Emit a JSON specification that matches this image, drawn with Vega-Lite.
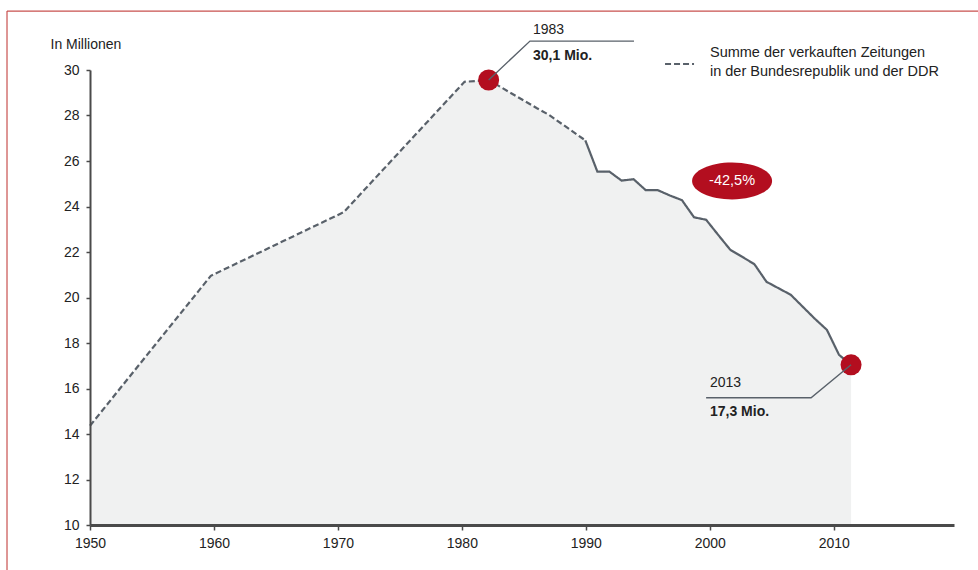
{
  "$schema": "https://vega.github.io/schema/vega-lite/v6.json",
  "width": 864,
  "height": 455,
  "autosize": {"type": "none"},
  "padding": {"left": 90, "top": 70, "right": 24, "bottom": 45},
  "background": "white",
  "config": {
    "view": {"stroke": null},
    "font": "Liberation Sans, Arial, sans-serif",
    "text": {"font": "Liberation Sans, Arial, sans-serif", "fontSize": 14, "color": "#222222"}
  },
  "datasets": {
    "achse": [
      {"jahr": 1950, "mio": 10},
      {"jahr": 2019.7, "mio": 30}
    ],
    "verkauf": [
      {"jahr": 1950, "mio": 14.56, "reihe": "Bundesrepublik und DDR"},
      {"jahr": 1960, "mio": 21.3, "reihe": "Bundesrepublik und DDR"},
      {"jahr": 1971, "mio": 24.16, "reihe": "Bundesrepublik und DDR"},
      {"jahr": 1981, "mio": 30.02, "reihe": "Bundesrepublik und DDR"},
      {"jahr": 1983, "mio": 30.1, "reihe": "Bundesrepublik und DDR"},
      {"jahr": 1987, "mio": 28.83, "reihe": "Bundesrepublik und DDR"},
      {"jahr": 1988, "mio": 28.53, "reihe": "Bundesrepublik und DDR"},
      {"jahr": 1991, "mio": 27.39, "reihe": "Bundesrepublik und DDR"},
      {"jahr": 1991, "mio": 27.39, "reihe": "Deutschland"},
      {"jahr": 1992, "mio": 25.98, "reihe": "Deutschland"},
      {"jahr": 1993, "mio": 25.98, "reihe": "Deutschland"},
      {"jahr": 1994, "mio": 25.58, "reihe": "Deutschland"},
      {"jahr": 1995, "mio": 25.64, "reihe": "Deutschland"},
      {"jahr": 1996, "mio": 25.15, "reihe": "Deutschland"},
      {"jahr": 1997, "mio": 25.15, "reihe": "Deutschland"},
      {"jahr": 1998, "mio": 24.91, "reihe": "Deutschland"},
      {"jahr": 1999, "mio": 24.7, "reihe": "Deutschland"},
      {"jahr": 2000, "mio": 23.93, "reihe": "Deutschland"},
      {"jahr": 2001, "mio": 23.82, "reihe": "Deutschland"},
      {"jahr": 2002, "mio": 23.14, "reihe": "Deutschland"},
      {"jahr": 2003, "mio": 22.47, "reihe": "Deutschland"},
      {"jahr": 2004, "mio": 22.15, "reihe": "Deutschland"},
      {"jahr": 2005, "mio": 21.82, "reihe": "Deutschland"},
      {"jahr": 2006, "mio": 21.03, "reihe": "Deutschland"},
      {"jahr": 2007, "mio": 20.74, "reihe": "Deutschland"},
      {"jahr": 2008, "mio": 20.45, "reihe": "Deutschland"},
      {"jahr": 2009, "mio": 19.91, "reihe": "Deutschland"},
      {"jahr": 2010, "mio": 19.37, "reihe": "Deutschland"},
      {"jahr": 2011, "mio": 18.87, "reihe": "Deutschland"},
      {"jahr": 2012, "mio": 17.75, "reihe": "Deutschland"},
      {"jahr": 2013, "mio": 17.3, "reihe": "Deutschland"}
    ],
    "eckwerte": [
      {"jahr": 1983, "mio": 30.1},
      {"jahr": 2013, "mio": 17.3}
    ],
    "hinweislinien": [
      {"marke": "1983", "jahr": 1983, "mio": 30.1},
      {"marke": "1983", "jahr": 1986.42, "mio": 31.85},
      {"marke": "1983", "jahr": 1995.03, "mio": 31.85},
      {"marke": "2013", "jahr": 2001.0, "mio": 15.82},
      {"marke": "2013", "jahr": 2009.69, "mio": 15.82},
      {"marke": "2013", "jahr": 2013, "mio": 17.3}
    ],
    "jahresnotizen": [
      {"jahr": 1986.67, "mio": 32.35, "text": "1983"},
      {"jahr": 2001.32, "mio": 16.47, "text": "2013"}
    ],
    "wertnotizen": [
      {"jahr": 1986.67, "mio": 31.2, "text": "30,1 Mio."},
      {"jahr": 2001.32, "mio": 15.19, "text": "17,3 Mio."}
    ],
    "veraenderung": [
      {"jahr": 2003.15, "mio": 25.56, "text": "-42,5%"}
    ],
    "legende_linie": [
      {"jahr": 1997.6, "jahr_ende": 2000.0, "mio": 30.82}
    ],
    "legende_text": [
      {"jahr": 2001.32, "mio": 31.31, "text": "Summe der verkauften Zeitungen"},
      {"jahr": 2001.32, "mio": 30.46, "text": "in der Bundesrepublik und der DDR"}
    ],
    "rahmen_oben": [
      {"jahr": 1943.13, "jahr_ende": 2023.51, "mio": 33.2}
    ],
    "rahmen_links": [
      {"jahr": 1943.13, "mio": 8.08, "mio_ende": 33.2}
    ]
  },
  "layer": [
    {
      "data": {"name": "achse"},
      "mark": {"type": "point", "opacity": 0},
      "encoding": {
        "x": {
          "field": "jahr",
          "type": "quantitative",
          "scale": {"domain": [1950, 2019.7], "nice": false, "zero": false},
          "axis": {
            "title": null,
            "zindex": 1,
            "values": [1950, 1960, 1970, 1980, 1990, 2000, 2010],
            "format": "d",
            "grid": false,
            "labelFlush": false,
            "domainColor": "#4a4a4a",
            "domainWidth": 3,
            "tickColor": "#4a4a4a",
            "tickWidth": 1.5,
            "tickSize": 5,
            "labelFont": "Liberation Sans, Arial, sans-serif",
            "labelFontSize": 14,
            "labelColor": "#222222",
            "labelPadding": 6
          }
        },
        "y": {
          "field": "mio",
          "type": "quantitative",
          "scale": {"domain": [10, 30], "nice": false, "zero": false},
          "axis": {
            "title": "In Millionen",
            "zindex": 1,
            "titleAngle": 0,
            "titleAlign": "left",
            "titleBaseline": "middle",
            "titleX": -40,
            "titleY": -26,
            "titleFont": "Liberation Sans, Arial, sans-serif",
            "titleFontSize": 14,
            "titleFontWeight": "normal",
            "titleColor": "#222222",
            "values": [10, 12, 14, 16, 18, 20, 22, 24, 26, 28, 30],
            "grid": false,
            "labelFlush": false,
            "domainColor": "#4a4a4a",
            "domainWidth": 2,
            "tickColor": "#4a4a4a",
            "tickWidth": 1.5,
            "tickSize": 4,
            "labelFont": "Liberation Sans, Arial, sans-serif",
            "labelFontSize": 14,
            "labelColor": "#222222",
            "labelPadding": 7
          }
        }
      }
    },
    {
      "encoding": {
        "x": {
          "field": "jahr",
          "type": "quantitative",
          "scale": {"domain": [1950, 2021.52], "nice": false, "zero": false},
          "axis": null
        },
        "y": {
          "field": "mio",
          "type": "quantitative",
          "scale": {"domain": [10.1, 30.55], "nice": false, "zero": false},
          "axis": null
        }
      },
      "layer": [
        {
          "data": {"name": "rahmen_oben"},
          "mark": {"type": "rule", "color": "#c8504e", "strokeWidth": 1.2},
          "encoding": {"x2": {"field": "jahr_ende"}}
        },
        {
          "data": {"name": "rahmen_links"},
          "mark": {"type": "rule", "color": "#c8504e", "strokeWidth": 1.2},
          "encoding": {"y2": {"field": "mio_ende"}}
        },
        {
          "data": {"name": "verkauf"},
          "mark": {"type": "area", "color": "#f0f1f1", "opacity": 1},
          "encoding": {"y2": {"datum": 10.1}}
        },
        {
          "data": {"name": "verkauf"},
          "mark": {"type": "line", "color": "#59616a", "strokeWidth": 2.2},
          "encoding": {
            "strokeDash": {
              "field": "reihe",
              "type": "nominal",
              "scale": {"domain": ["Bundesrepublik und DDR", "Deutschland"], "range": [[6, 3], [1, 0]]},
              "legend": null
            }
          }
        },
        {
          "data": {"name": "eckwerte"},
          "mark": {"type": "point", "shape": "circle", "filled": true, "size": 440, "color": "#b30e1f", "opacity": 1}
        },
        {
          "data": {"name": "hinweislinien"},
          "mark": {"type": "line", "color": "#59616a", "strokeWidth": 1.4},
          "encoding": {"detail": {"field": "marke", "type": "nominal"}}
        },
        {
          "data": {"name": "jahresnotizen"},
          "mark": {"type": "text", "align": "left", "baseline": "middle", "fontSize": 14},
          "encoding": {"text": {"field": "text"}}
        },
        {
          "data": {"name": "wertnotizen"},
          "mark": {"type": "text", "align": "left", "baseline": "middle", "fontSize": 14, "fontWeight": "bold"},
          "encoding": {"text": {"field": "text"}}
        },
        {
          "data": {"name": "veraenderung"},
          "mark": {"type": "point", "shape": "M-1,0A1,0.46,0,1,1,1,0A1,0.46,0,1,1,-1,0Z", "filled": true, "size": 6400, "color": "#b30e1f", "opacity": 1}
        },
        {
          "data": {"name": "veraenderung"},
          "mark": {"type": "text", "align": "center", "baseline": "middle", "fontSize": 14.5, "color": "white"},
          "encoding": {"text": {"field": "text"}}
        },
        {
          "data": {"name": "legende_linie"},
          "mark": {"type": "rule", "color": "#59616a", "strokeWidth": 2.2, "strokeDash": [6, 3]},
          "encoding": {"x2": {"field": "jahr_ende"}}
        },
        {
          "data": {"name": "legende_text"},
          "mark": {"type": "text", "align": "left", "baseline": "middle", "fontSize": 14.5},
          "encoding": {"text": {"field": "text"}}
        }
      ]
    }
  ],
  "resolve": {"scale": {"x": "independent", "y": "independent"}}
}
